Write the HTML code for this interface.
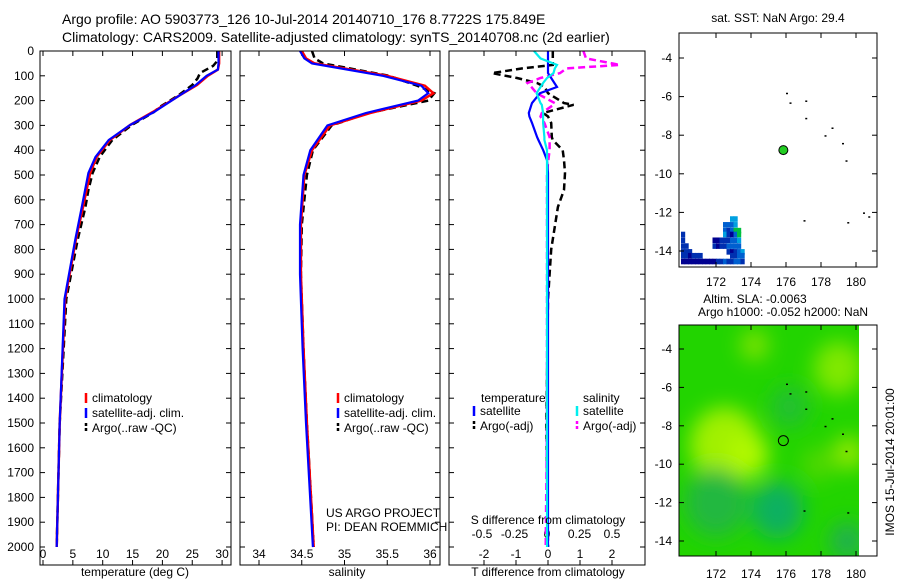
<!DOCTYPE html>
<html><head><meta charset="utf-8"><style>
body{margin:0;background:#fff}
svg{display:block;font-family:"Liberation Sans",sans-serif}
text{fill:#000}
</style></head><body>
<svg id="c" width="900" height="580" viewBox="0 0 900 580" xmlns="http://www.w3.org/2000/svg">
<defs>
<filter id="blur" x="-50%" y="-50%" width="200%" height="200%"><feGaussianBlur stdDeviation="10"/></filter>
<clipPath id="m2clip"><rect x="679" y="325" width="180" height="231"/></clipPath>
</defs>
<text x="62" y="24" font-size="14">Argo profile: AO 5903773_126 10-Jul-2014 20140710_176 8.7722S 175.849E</text>
<text x="62" y="42" font-size="14">Climatology: CARS2009. Satellite-adjusted climatology: synTS_20140708.nc (2d earlier)</text>
<g id="g"></g>
</svg>
<script>
// ---- data ----
const depths = [0,50,75,100,137,177,246,298,359,427,492,629,762,1000,1500,2000];
const tempClim = [29.5,29.5,29.3,27.6,25.8,23.0,18.4,14.6,11.2,9.0,7.9,6.7,5.5,3.7,2.8,2.3];
const tempSat  = [29.4,29.4,29.3,27.4,25.6,23.0,18.6,14.6,11.0,8.8,7.6,6.5,5.4,3.6,2.8,2.3];
const argoDepths = [0,40,60,89,110,137,177,225,246,298,359,427,492,560,629,762,1000,1500,2000];
const tempArgo = [29.2,29.2,28.5,26.3,25.9,25.0,22.8,19.6,18.6,14.9,11.6,9.5,8.3,7.6,7.1,5.8,3.9,2.8,2.3];
const salDepths = [0,30,50,100,140,170,200,250,300,400,500,700,900,1200,1500,2000];
const salClim = [34.50,34.55,34.65,35.50,35.94,36.04,35.90,35.30,34.83,34.62,34.53,34.49,34.49,34.52,34.56,34.64];
const salSat  = [34.48,34.53,34.62,35.45,35.90,35.98,35.86,35.25,34.80,34.60,34.52,34.48,34.48,34.51,34.55,34.63];
const salArgo = [34.62,34.65,34.75,35.52,35.85,36.05,35.98,35.28,34.85,34.63,34.56,34.50,34.49,34.52,34.56,34.64];
const diffDepths = [0,30,56,70,89,109,129,145,170,210,217,250,264,290,347,359,400,440,492,560,629,800,1000,1500,2000];
const dTsat  = [0,0,0,0,0,0.1,0.2,0.28,-0.25,-0.5,-0.52,-0.6,-0.58,-0.5,-0.34,-0.3,-0.15,-0.03,0,0,0,0,0,0,0];
const dSsat  = [-0.1,-0.05,0.077,0.06,0.05,0.0,-0.03,-0.05,-0.08,-0.05,-0.04,-0.03,-0.03,-0.03,-0.02,-0.02,0,0,0,0,0,0,0,0,0];
const dTargo = [0.15,0.15,0.15,-0.8,-1.75,-0.97,-0.34,-0.1,0,0.5,0.8,-0.15,0,0.1,0.12,0.15,0.46,0.5,0.53,0.5,0.31,0.1,0,-0.05,0];
const dSargo = [0.28,0.3,0.56,0.15,0.1,-0.05,-0.15,-0.12,-0.08,0.06,0.05,-0.04,-0.05,-0.02,0.02,0.02,0.02,0.01,0,0,0,0,0,0,-0.01];
const depthTicks = [0,100,200,300,400,500,600,700,800,900,1000,1100,1200,1300,1400,1500,1600,1700,1800,1900,2000];
const tempTicks = [0,5,10,15,20,25,30];
const salTicks = [34,34.5,35,35.5,36];
const dTTicks = [-2,-1,0,1,2];
const dSTicks = [-0.5,-0.25,0,0.25,0.5];
const latTicks = [-4,-6,-8,-10,-12,-14];
const lonTicks = [172,174,176,178,180];
const sstCells = [[172.8,-12.2,3],[173.0,-12.2,3],[172.4,-12.5,2],[172.6,-12.5,2],[172.8,-12.5,2],[173.0,-12.5,3],[172.4,-12.8,2],[172.6,-12.8,1],[172.8,-12.8,2],[173.0,-12.8,4],[173.2,-12.8,4],[172.4,-13.0,3],[172.6,-13.0,1],[172.8,-13.0,0],[173.0,-13.0,2],[173.2,-13.0,4],[171.8,-13.3,0],[172.0,-13.3,0],[172.2,-13.3,1],[172.4,-13.3,1],[172.6,-13.3,1],[172.8,-13.3,2],[173.0,-13.3,2],[173.2,-13.3,3],[171.8,-13.6,1],[172.0,-13.6,0],[172.2,-13.6,1],[172.4,-13.6,1],[172.6,-13.6,2],[172.8,-13.6,2],[173.0,-13.6,2],[173.2,-13.6,2],[172.6,-13.9,1],[172.8,-13.9,0],[173.0,-13.9,1],[173.2,-13.9,2],[173.4,-13.9,3],[170.0,-13.0,1],[170.0,-13.3,1],[170.0,-13.6,1],[170.2,-13.6,1],[170.4,-13.9,1],[170.0,-13.9,1],[170.2,-13.9,1],[172.8,-14.1,1],[173.0,-14.1,1],[173.2,-14.1,2],[173.4,-14.1,2],[170.0,-14.4,0],[170.2,-14.4,0],[170.4,-14.4,0],[170.6,-14.4,0],[170.8,-14.4,0],[171.0,-14.4,0],[171.2,-14.4,0],[171.4,-14.4,0],[171.6,-14.4,0],[171.8,-14.4,0],[172.0,-14.4,1],[172.2,-14.4,1],[172.4,-14.4,2],[172.6,-14.4,1],[172.8,-14.4,1],[173.0,-14.4,2],[173.2,-14.4,2],[173.4,-14.4,1],[170.0,-14.1,1],[170.2,-14.1,1],[170.4,-14.1,0],[170.6,-14.1,1],[170.8,-14.1,1],[171.0,-14.1,1]];
const slaBlobs = [[172.5,-9.0,2.0,'#a0f000'],[173.8,-9.5,1.2,'#b0f800'],[179.6,-9.4,0.9,'#90e800'],[179.0,-5.0,1.4,'#80e800'],[174.2,-3.8,0.8,'#80e400'],[175.5,-12.4,1.5,'#10b060'],[172.0,-12.0,1.8,'#20b840'],[179.5,-14.0,1.0,'#20b050'],[176.2,-7.0,1.1,'#20c030'],[177.8,-10.0,0.9,'#50d800']];
const islands = [[176.0,-5.8],[176.2,-6.3],[177.1,-6.2],[177.1,-7.1],[178.6,-7.6],[178.2,-8.0],[179.2,-8.4],[179.4,-9.3],[180.4,-12.0],[180.7,-12.2],[177.0,-12.4],[179.5,-12.5]];
const argoLon = 175.849, argoLat = -8.7722;

// ---- scales ----
const NS='http://www.w3.org/2000/svg', G=document.getElementById('g');
const yD = d => 51 + d*0.248;
const xT = t => 43 + t*5.97;
const xS = s => 259 + (s-34)*85.5;
const xDT = v => 548 + v*32;
const xDS = v => 547 + v*130;
const xLon = l => 716 + (l-172)*17.5;
const yLat1 = l => 58 + (-4-l)*19.3;
const yLat2 = l => 349 + (-4-l)*19.2;
function el(tag, at, parent){const e=document.createElementNS(NS,tag);for(const k in at)e.setAttribute(k,at[k]);(parent||G).appendChild(e);return e;}
function txt(x,y,s,sz,anchor,name){const t=el('text',{x:x,y:y,'font-size':sz||12,'text-anchor':anchor||'middle'});t.textContent=s;return t;}
function line(xs,ds,xf,color,dash,w,name){
  const pts=ds.map((d,i)=>xf(xs[i]).toFixed(1)+','+yD(d).toFixed(1)).join(' ');
  const p=el('polyline',{points:pts,fill:'none',stroke:color,'stroke-width':w||2,'stroke-dasharray':dash||'none'});
  
}
function box(x,y,w,h,name){const r=el('rect',{x:x,y:y,width:w,height:h,fill:'none',stroke:'#000','stroke-width':1});}
function depthTickMarks(x0,x1){depthTicks.forEach(d=>{const y=yD(d);el('line',{x1:x0,y1:y,x2:x0+5,y2:y,stroke:'#000'});el('line',{x1:x1-5,y1:y,x2:x1,y2:y,stroke:'#000'});});}
function xTickMarks(vals,xf,y0,y1){vals.forEach(v=>{const x=xf(v);el('line',{x1:x,y1:y1,x2:x,y2:y1-5,stroke:'#000'});el('line',{x1:x,y1:y0,x2:x,y2:y0+5,stroke:'#000'});});}

// ---- panel 1 temperature ----
depthTicks.forEach(d=>txt(34,yD(d)+4,String(d),12,'end','depth-tick-label'));
depthTickMarks(40,231);xTickMarks(tempTicks,xT,51,565);
tempTicks.forEach(t=>txt(xT(t),558,String(t),12,'middle','temp-tick-label'));
line(tempArgo,argoDepths,xT,'#000','7,4',2.5,'temp-argo-line');
line(tempClim,depths,xT,'#f00','',2.5,'temp-climatology-line');
line(tempSat,depths,xT,'#00f','',2.2,'temp-satellite-line');
box(40,51,191,514,'temperature-panel');
txt(135,576,'temperature (deg C)',12,'middle','temp-axis-title');
function legend(x,y,items,name){items.forEach((it,i)=>{const yy=y+i*15;el('line',{x1:x,y1:yy-9,x2:x,y2:yy+1,stroke:it[1],'stroke-width':2.5,'stroke-dasharray':it[2]||'none'});txt(x+6,yy,it[0],12,'start',name);});}
legend(86,402,[['climatology','#f00'],['satellite-adj. clim.','#00f'],['Argo(..raw -QC)','#000','3,2']],'temp-legend-entry');

// ---- panel 2 salinity ----
depthTickMarks(240,440);xTickMarks(salTicks,xS,51,565);
salTicks.forEach(s=>txt(xS(s),558,String(s),12,'middle','sal-tick-label'));
line(salArgo,salDepths,xS,'#000','7,4',2.5,'sal-argo-line');
line(salClim,salDepths,xS,'#f00','',2.5,'sal-climatology-line');
line(salSat,salDepths,xS,'#00f','',2.2,'sal-satellite-line');
box(240,51,200,514,'salinity-panel');
txt(347,576,'salinity',12,'middle','sal-axis-title');
legend(338,402,[['climatology','#f00'],['satellite-adj. clim.','#00f'],['Argo(..raw -QC)','#000','3,2']],'sal-legend-entry');
txt(326,517,'US ARGO PROJECT',12,'start','project-label');
txt(326,531,'PI: DEAN ROEMMICH',12,'start','pi-label');

// ---- panel 3 differences ----
depthTickMarks(449,645);xTickMarks(dTTicks,xDT,51,565);
dTTicks.forEach(v=>txt(xDT(v),558,String(v),12,'middle','dT-tick-label'));
dSTicks.forEach(v=>txt(xDS(v),538,String(v),12,'middle','dS-tick-label'));
line(dTargo,diffDepths,xDT,'#000','7,4',2.5,'dT-argo-line');
line(dSargo,diffDepths,xDS,'#f0f','7,4',2.5,'dS-argo-line');
line(dTsat,diffDepths,xDT,'#00f','',2.2,'dT-satellite-line');
line(dSsat,diffDepths,xDS,'#0ee','',2.2,'dS-satellite-line');
box(449,51,196,514,'difference-panel');
txt(548,524,'S difference from climatology',12,'middle','dS-axis-title');
txt(548,576,'T difference from climatology',12,'middle','dT-axis-title');
txt(481,402,'temperature',12,'start','legend-header-temp');
txt(583,402,'salinity',12,'start','legend-header-sal');
legend(474,415,[['satellite','#00f'],['Argo(-adj)','#000','3,2']],'diff-legend-temp');
legend(577,415,[['satellite','#0ee'],['Argo(-adj)','#f0f','3,2']],'diff-legend-sal');

// ---- map 1 SST ----
txt(778,22,'sat. SST: NaN Argo: 29.4',12,'middle','sst-map-title');
const sstColors=['#000090','#0030b0','#0060d0','#00a0e0','#00c040'];
sstCells.forEach(c=>{const x=Math.max(679,xLon(c[0]));const r=el('rect',{x:x,y:yLat1(c[1]),width:4.2,height:5.6,fill:sstColors[c[2]]});});
islands.forEach(p=>{const r=el('rect',{x:xLon(p[0]),y:yLat1(p[1]),width:2,height:1.5,fill:'#000'});});
{const c=el('circle',{cx:xLon(argoLon),cy:yLat1(argoLat),r:4.5,fill:'#2c2',stroke:'#000'});}
box(679,33,198,234,'sst-map');
latTicks.forEach(l=>{const y=yLat1(l);el('line',{x1:679,y1:y,x2:684,y2:y,stroke:'#000'});el('line',{x1:872,y1:y,x2:877,y2:y,stroke:'#000'});txt(672,y+4,String(l),12,'end','sst-lat-label');});
lonTicks.forEach(l=>{const x=xLon(l);el('line',{x1:x,y1:267,x2:x,y2:262,stroke:'#000'});el('line',{x1:x,y1:33,x2:x,y2:38,stroke:'#000'});txt(x,286,String(l),12,'middle','sst-lon-label');});

// ---- map 2 SLA ----
txt(755,303,'Altim. SLA: -0.0063',12,'middle','sla-map-title');
txt(783,316,'Argo h1000: -0.052 h2000: NaN',12,'middle','sla-argo-heights');
{const bg=el('rect',{x:679,y:325,width:180,height:231,fill:'#22d400'});}
const bl=el('g',{'clip-path':'url(#m2clip)'});
const bl2=el('g',{filter:'url(#blur)'},bl);
slaBlobs.forEach(b=>{const c=el('ellipse',{cx:xLon(b[0]),cy:yLat2(b[1]),rx:b[2]*17.5,ry:b[2]*19,fill:b[3]},bl2);});
islands.forEach(p=>{if(p[0]<180.1){const r=el('rect',{x:xLon(p[0]),y:yLat2(p[1]),width:2,height:1.5,fill:'#000'});}});
{const c=el('circle',{cx:xLon(argoLon),cy:yLat2(argoLat),r:5,fill:'none',stroke:'#000'});}
box(679,325,198,231,'sla-map');
latTicks.forEach(l=>{const y=yLat2(l);el('line',{x1:679,y1:y,x2:684,y2:y,stroke:'#000'});el('line',{x1:872,y1:y,x2:877,y2:y,stroke:'#000'});txt(672,y+4,String(l),12,'end','sla-lat-label');});
lonTicks.forEach(l=>{const x=xLon(l);el('line',{x1:x,y1:556,x2:x,y2:551,stroke:'#000'});el('line',{x1:x,y1:325,x2:x,y2:330,stroke:'#000'});txt(x,578,String(l),12,'middle','sla-lon-label');});
{const t=txt(0,0,'IMOS 15-Jul-2014 20:01:00',12,'middle','imos-timestamp');t.setAttribute('transform','translate(894,462) rotate(-90)');}
</script>
</body></html>
